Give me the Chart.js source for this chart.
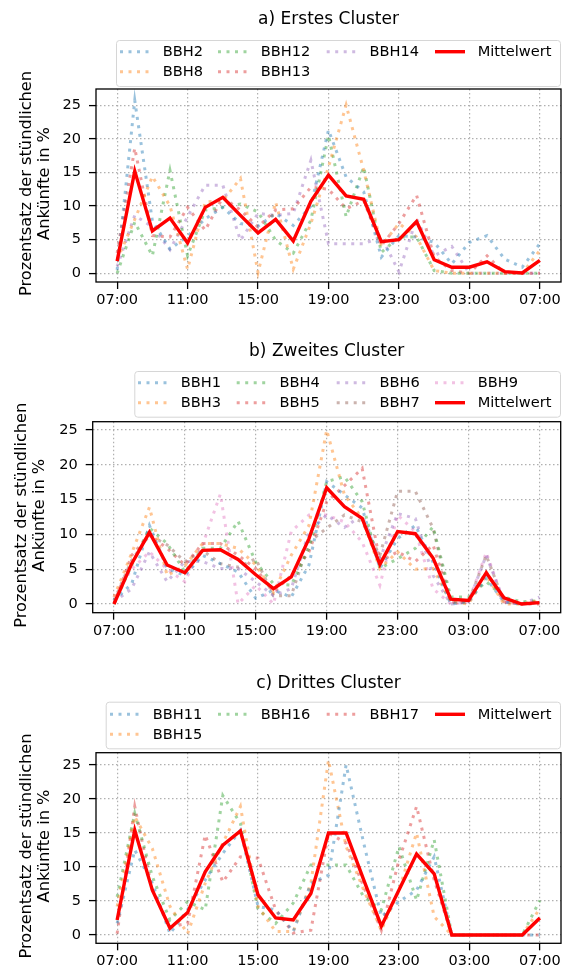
<!DOCTYPE html>
<html>
<head>
<meta charset="utf-8">
<script src="https://cdn.jsdelivr.net/npm/chart.js@4.4.1/dist/chart.umd.min.js"></script>
<style>
    html, body { margin: 0; padding: 0; background: #fff; }
    #wrap { position: relative; width: 567px; height: 969px; overflow: hidden; }
    #wrap canvas { position: absolute; left: 0; }
</style>
</head>
<body>
<div id="wrap">
    <canvas id="chartA" width="567" height="323" style="top:0px"></canvas>
    <canvas id="chartB" width="567" height="327" style="top:323px"></canvas>
    <canvas id="chartC" width="567" height="319" style="top:650px"></canvas>
</div>
<script>
// DATA
// x positions = hours after 07:00 (0 .. 24)
const hourIndex= [0,1,2,3,4,5,6,7,8,9,10,11,12,13,14,15,16,17,18,19,20,21,22,23,24];
const tickHours= [0,4,8,12,16,20,24];
const tickLabels= ['07:00','11:00','15:00','19:00','23:00','03:00','07:00'];
const yTicks= [0,5,10,15,20,25];
const yLabel= ['Prozentsatz der stündlichen','Ankünfte in %'];
const meanName= 'Mittelwert';

// a) Erstes Cluster
const titleA= 'a) Erstes Cluster';
const namesA= ['BBH2','BBH8','BBH12','BBH13','BBH14'];
const bbh2=  [0.5,25.7,7.8,3.6,5.5,8.1,9.8,7.4,7.0,8.9,7.1,10.0,21.3,14.3,12.1,2.4,5.6,5.4,4.6,1.4,4.6,5.6,2.1,0.9,4.4];
const bbh8=  [2.0,8.0,14.4,10.0,0.6,10.6,10.8,14.1,0.1,10.6,0.6,7.4,15.8,25.0,15.3,4.1,7.4,5.4,0.4,0,0,0,0,0,3.4];
const bbh12= [0,7.6,2.6,15.3,2.6,9.4,9.8,10.3,9.1,4.9,3.0,7.9,20.5,8.4,15.8,3.1,5.4,5.4,0.4,0,0,0,0,0,0];
const bbh13= [3.0,18.6,5.6,5.4,9.8,6.4,11.3,9.4,6.9,9.4,9.6,12.8,12.5,9.6,10.8,4.1,7.4,11.6,2.4,0.4,0,2.6,0,0,0];
const bbh14= [1.0,8.6,6.9,3.5,8.4,13.1,13.1,4.9,8.9,8.6,8.9,16.8,4.4,4.4,4.4,5.4,0.2,8.1,2.6,4.0,0,0,0,0,0];
const meanA= [1.8,15.2,6.3,8.2,4.5,9.8,11.3,8.6,6.0,8.0,4.8,10.7,14.6,11.5,11.0,4.7,5.0,7.7,2.0,0.9,0.9,1.7,0.25,0.05,1.9];

// b) Zweites Cluster
const titleB= 'b) Zweites Cluster';
const namesB= ['BBH1','BBH3','BBH4','BBH5','BBH6','BBH7','BBH9'];
const bbh1= [0.5,2.9,11.3,5.1,4.1,7.0,5.8,4.6,0.8,2.0,1.0,5.6,17.6,15.7,13.8,5.1,9.4,11.3,6.0,0,0.3,3.7,0.3,0,0.3];
const bbh3= [1.0,7.3,13.9,4.1,5.5,8.7,8.7,8.0,5.6,1.7,7.0,11.3,25.0,15.7,12.3,5.1,7.5,5.0,5.1,0.3,0,4.1,0,0,0.5];
const bbh4= [0,5.6,10.9,8.7,4.6,8.0,8.0,11.9,6.0,2.9,2.7,8.0,17.6,18.3,14.7,5.1,6.5,8.0,11.1,1.0,1.0,3.2,1.0,0.3,0.5];
const bbh5= [0,7.0,9.9,8.0,5.6,8.7,8.7,7.0,5.1,1.7,4.1,7.5,14.7,17.0,19.5,6.1,7.5,6.1,8.5,0.3,0.3,4.6,0.3,0,0];
const bbh6= [0.3,2.2,7.5,3.2,6.1,6.1,5.1,5.1,3.2,1.2,2.2,10.4,12.8,11.0,12.8,6.5,13.0,12.3,4.1,0,0.3,7.0,0.3,0,1.0];
const bbh7= [0.5,6.3,9.9,8.5,6.1,7.7,5.8,5.3,6.5,1.2,1.2,8.9,10.9,12.8,11.8,7.0,16.2,16.2,10.9,0.3,0.3,7.0,0.3,0,0.3];
const bbh9= [1.0,5.0,7.5,5.0,3.2,8.5,15.8,0,2.7,0,10.4,12.8,12.8,11.8,8.9,2.7,12.8,10.4,2.2,0,0.3,7.4,0.3,0,0.5];
const meanB= [0,5.8,10.3,5.6,4.5,7.7,7.8,6.4,4.2,2.2,3.9,9.4,16.7,14.0,12.3,5.7,10.4,10.1,6.6,0.7,0.5,4.5,0.9,0,0.2];

// c) Drittes Cluster
const titleC= 'c) Drittes Cluster';
const namesC= ['BBH11','BBH15','BBH16','BBH17'];
const bbh11= [1.7,12.5,7.6,0.2,3.7,8.1,12.0,15.4,4.2,3.7,0.5,7.6,8.8,25.0,13.5,2.7,4.9,6.6,11.5,0,0,0,0,0,0];
const bbh15= [4.2,17.4,12.7,4.2,0.2,7.6,13.5,18.9,4.2,0.5,0.5,7.6,25.7,13.0,6.6,0.7,6.6,15.0,2.7,0,0,0,0,0,3.9];
const bbh16= [5.6,17.9,8.6,2.2,4.9,3.7,20.5,16.4,3.7,1.7,4.7,10.3,10.3,10.3,5.6,3.7,13.0,5.1,14.0,0,0,0,0,0,5.1];
const bbh17= [0.2,18.9,6.6,1.2,1.7,14.7,7.8,11.5,11.3,3.7,0.3,0.7,15.0,13.5,7.1,0.7,11.0,18.9,8.1,0,0,0,0,0,0];
const meanC= [2.2,15.4,6.6,1.0,3.3,9.3,13.2,15.3,5.9,2.5,2.2,6.1,15.0,15.0,8.1,1.3,6.6,11.9,9.0,0,0,0,0,0,2.5];

// STYLE
const FONT= 'DejaVu Sans';
const tabColors= ['31,119,180','255,127,14','44,160,44','214,39,40','148,103,189','140,86,75','227,119,194'];
Chart.defaults.font.family= FONT;
Chart.defaults.color= '#000';

const makeDatasets= function(names, series, mean){
    // dotted, half transparent line per station + solid red mean on top
    const sets= names.map((name, idx) => ({
        label: name,
        data: series[idx],
        borderColor: `rgba(${tabColors[idx]},0.45)`,
        borderWidth: 3,
        borderDash: [3, 5.5],
        borderCapStyle: 'butt',
        pointRadius: 0,
        tension: 0,
        fill: false,
        order: 1,
    }));
    sets.push({
        label: meanName,
        data: mean,
        borderColor: '#ff0000',
        borderWidth: 3.4,
        borderJoinStyle: 'miter',
        pointRadius: 0,
        tension: 0,
        fill: false,
        order: 0,
    });
    return sets;
};

// draws frame, title, y label and the matplotlib-like legend above the axes
const decorPlugin= {
    id: 'decor',
    afterDraw(chart, args, opts){
        const ctx= chart.ctx;
        const a= chart.chartArea;
        const off= opts.canvasTop;
        ctx.save();

        // spines
        ctx.strokeStyle= '#000';
        ctx.lineWidth= 1.3;
        ctx.strokeRect(a.left, a.top, a.right - a.left, a.bottom - a.top);

        // title
        ctx.fillStyle= '#000';
        ctx.font= `17px "${FONT}"`;
        ctx.textAlign= 'center';
        ctx.textBaseline= 'middle';
        ctx.fillText(opts.title, (a.left + a.right) / 2, opts.titleY - off);

        // y axis label (two centered lines, rotated)
        ctx.font= `16.2px "${FONT}"`;
        const midY= (a.top + a.bottom) / 2 - 2;
        yLabel.forEach((line, i) => {
            ctx.save();
            ctx.translate(opts.ylabelX[i], midY);
            ctx.rotate(-Math.PI / 2);
            ctx.fillText(line, 0, 1);
            ctx.restore();
        });

        // legend box
        const b= opts.legendBox;
        ctx.beginPath();
        if(ctx.roundRect) ctx.roundRect(b[0] + 0.5, b[1] - off + 0.5, b[2] - b[0], b[3] - b[1], 3);
        else ctx.rect(b[0] + 0.5, b[1] - off + 0.5, b[2] - b[0], b[3] - b[1]);
        ctx.fillStyle= 'rgba(255,255,255,0.8)';
        ctx.fill();
        ctx.strokeStyle= '#d6d6d6';
        ctx.lineWidth= 1;
        ctx.stroke();

        // legend entries, filled column by column (4 columns)
        const sets= chart.data.datasets;
        const nCol= opts.colX.length;
        const base= Math.floor(sets.length / nCol);
        const extra= sets.length % nCol;
        let k= 0;
        ctx.font= `14.6px "${FONT}"`;
        ctx.textAlign= 'left';
        for(let c=0; c<nCol; c++){
            const rows= base + (c < extra ? 1 : 0);
            for(let r=0; r<rows; r++, k++){
                const ds= sets[k];
                const y= opts.rowY[r] - off;
                const x= opts.colX[c];
                ctx.beginPath();
                ctx.setLineDash(ds.borderDash || []);
                ctx.lineCap= 'butt';
                ctx.strokeStyle= ds.borderColor;
                ctx.lineWidth= ds.borderWidth;
                ctx.moveTo(x, y);
                ctx.lineTo(x + 30, y);
                ctx.stroke();
                ctx.setLineDash([]);
                ctx.fillStyle= '#000';
                ctx.fillText(ds.label, x + 42.7, y + 1);
            }
        }
        ctx.restore();
    }
};

const createPanel= function(canvasId, p){
    const canvasEl= document.getElementById(canvasId);
    const canvasH= canvasEl.height;
    const gridOpts= {
        color: '#b0b0b0',
        lineWidth: 1.2,
        drawTicks: true,
        tickLength: 7,
        tickColor: '#000',
        tickWidth: 1.3,
        tickBorderDash: [],
    };
    return new Chart(canvasEl, {
        type: 'line',
        data: {
            labels: hourIndex,
            datasets: makeDatasets(p.names, p.series, p.mean),
        },
        options: {
            responsive: false,
            animation: false,
            layout: {
                padding: { top: p.area[2] - p.top, right: 567 - p.area[1], left: 0, bottom: 0 }
            },
            scales: {
                x: {
                    type: 'linear',
                    min: -1.2,
                    max: 25.2,
                    afterFit: (scale) => { scale.height= p.top + canvasH - p.area[3]; },
                    afterBuildTicks: (axis) => { axis.ticks= tickHours.map(v => ({ value: v })); },
                    ticks: {
                        autoSkip: false,
                        maxRotation: 0,
                        padding: 2.5,
                        font: { size: 14.5 },
                        color: '#000',
                        callback: (v) => tickLabels[tickHours.indexOf(v)],
                    },
                    grid: gridOpts,
                    border: { display: false, dash: [1.5, 2.5] },
                },
                y: {
                    min: p.yMin,
                    max: p.yMax,
                    afterFit: (scale) => { scale.width= p.area[0]; },
                    afterBuildTicks: (axis) => { axis.ticks= yTicks.map(v => ({ value: v })); },
                    ticks: {
                        padding: 8,
                        font: { size: 14.5 },
                        color: '#000',
                        callback: (v) => String(v),
                    },
                    grid: gridOpts,
                    border: { display: false, dash: [1.5, 2.5] },
                },
            },
            plugins: {
                legend: { display: false },
                tooltip: { enabled: false },
                decor: {
                    canvasTop: p.top,
                    title: p.title,
                    titleY: p.titleY,
                    legendBox: p.legendBox,
                    colX: p.colX,
                    rowY: p.rowY,
                    ylabelX: p.ylabelX,
                },
            },
        },
        plugins: [decorPlugin],
    });
};

// area = [left, right, top, bottom] in page pixels
createPanel('chartA', {
    top: 0, area: [96, 561, 89, 282], yMin: -1.3, yMax: 27.4,
    names: namesA, series: [bbh2, bbh8, bbh12, bbh13, bbh14], mean: meanA,
    title: titleA, titleY: 20, legendBox: [116, 40, 560, 86],
    colX: [120, 218, 326.7, 435], rowY: [51.7, 71.7], ylabelX: [25.5, 43.5],
});
createPanel('chartB', {
    top: 323, area: [92.7, 560.7, 421.7, 612.7], yMin: -1.25, yMax: 26.2,
    names: namesB, series: [bbh1, bbh3, bbh4, bbh5, bbh6, bbh7, bbh9], mean: meanB,
    title: titleB, titleY: 351.7, legendBox: [134.3, 371, 560, 416.7],
    colX: [138, 236.7, 336.7, 435], rowY: [382.7, 402.7], ylabelX: [20.5, 38.5],
});
createPanel('chartC', {
    top: 650, area: [96, 561, 752.7, 943.3], yMin: -1.22, yMax: 26.8,
    names: namesC, series: [bbh11, bbh15, bbh16, bbh17], mean: meanC,
    title: titleC, titleY: 683.3, legendBox: [105.7, 701.7, 560, 748.3],
    colX: [110, 218, 326.7, 435], rowY: [714.3, 734.3], ylabelX: [25.5, 43.5],
});
</script>
</body>
</html>
